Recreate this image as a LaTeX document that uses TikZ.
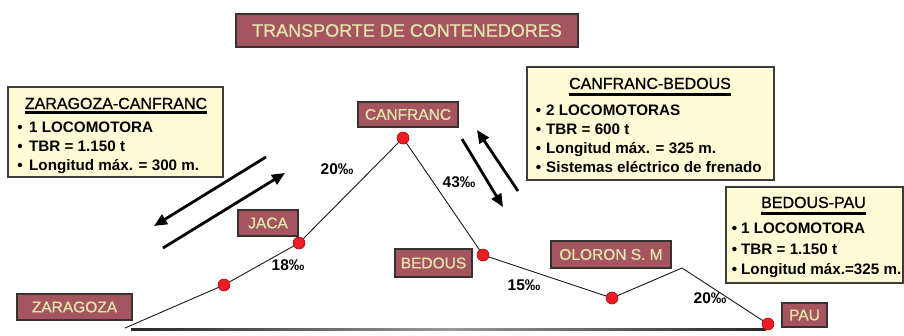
\documentclass[tikz,border=0pt]{standalone}
\usepackage{fontspec}
\setmainfont{Liberation Sans}
\newfontfamily\medfont[RawFeature={embolden=0.9}]{Liberation Sans}
\usetikzlibrary{arrows.meta}
\definecolor{lblfill}{RGB}{166,84,96}
\definecolor{lbltext}{RGB}{222,230,170}
\definecolor{lblborder}{RGB}{55,50,50}
\definecolor{boxfill}{RGB}{255,251,214}
\definecolor{boxborder}{RGB}{60,60,60}
\definecolor{dotred}{RGB}{237,28,36}
\definecolor{dotedge}{RGB}{150,20,20}
\begin{document}
\begin{tikzpicture}[x=1pt,y=-1pt,
  lbl/.style={draw=lblborder, line width=1.2pt, fill=lblfill, text=lbltext, inner sep=0pt, font=\medfont\fontsize{15.5}{17}\selectfont},
  infobox/.style={draw=boxborder, line width=1.2pt, fill=boxfill, inner sep=0pt},
  btitle/.style={inner sep=0pt, anchor=base, font=\medfont\fontsize{16}{18}\selectfont},
  bline/.style={inner sep=0pt, anchor=base west, font=\bfseries\fontsize{15.2}{17}\selectfont},
  bul/.style={inner sep=0pt, anchor=base, font=\bfseries\fontsize{15.2}{17}\selectfont},
  pct/.style={inner sep=0pt, font=\bfseries\fontsize{15.5}{17}\selectfont},
  dot/.style={circle, fill=dotred, draw=dotedge, line width=0.6pt, minimum size=12pt, inner sep=0pt},
  track/.style={line width=0.9pt, draw=black!90},
  bigarrow/.style={line width=2.8pt, -{Triangle[length=13pt,width=11pt]}},
  uline/.style={line width=3pt}
]
\useasboundingbox (0,0) rectangle (904,335);

% title
\node[lbl, minimum width=342pt, minimum height=33pt, font=\medfont\fontsize{18}{20}\selectfont] (title) at (407,30.5) {TRANSPORTE DE CONTENEDORES};

% info boxes
\node[infobox, minimum width=215pt, minimum height=90pt] (box1) at (115.5,132) {};
\node[btitle] (t1) at (116,109) {ZARAGOZA-CANFRANC};
\draw[uline] ([yshift=-3.5pt]t1.base west) -- ([yshift=-3.5pt]t1.base east);
\node[bul] (b11) at (20,132) {•};
\node[bline] (l11) at (29,132) {1 LOCOMOTORA};
\node[bul] (b12) at (20,151) {•};
\node[bline] (l12) at (29,151) {TBR = 1.150 t};
\node[bul] (b13) at (20,170) {•};
\node[bline] (l13) at (29,170) {Longitud máx. = 300 m.};

\node[infobox, minimum width=247pt, minimum height=113pt] (box2) at (650.5,123.5) {};
\node[btitle] (t2) at (650,89) {CANFRANC-BEDOUS};
\draw[uline] ([yshift=-5pt]t2.base west) -- ([yshift=-5pt]t2.base east);
\node[bul] (b21) at (538.5,115) {•};
\node[bline] (l21) at (546,115) {2 LOCOMOTORAS};
\node[bul] (b22) at (538.5,134) {•};
\node[bline] (l22) at (546,134) {TBR = 600 t};
\node[bul] (b23) at (538.5,153) {•};
\node[bline] (l23) at (546,153) {Longitud máx. = 325 m.};
\node[bul] (b24) at (538.5,172) {•};
\node[bline] (l24) at (546,172) {Sistemas eléctrico de frenado};

\node[infobox, minimum width=177pt, minimum height=96pt] (box3) at (814.5,235) {};
\node[btitle] (t3) at (813.5,208) {BEDOUS-PAU};
\draw[uline] ([yshift=-5pt]t3.base west) -- ([yshift=-5pt]t3.base east);
\node[bul] (b31) at (734.5,233) {•};
\node[bline] (l31) at (741,233) {1 LOCOMOTORA};
\node[bul] (b32) at (734.5,254) {•};
\node[bline] (l32) at (741,254) {TBR = 1.150 t};
\node[bul] (b33) at (734.5,274) {•};
\node[bline] (l33) at (741,274) {Longitud máx.=325 m.};

% station labels
\node[lbl, minimum width=100pt, minimum height=25pt] (canfranc) at (408,114.5) {CANFRANC};
\node[lbl, minimum width=60pt, minimum height=26pt] (jaca) at (268,223) {JACA};
\node[lbl, minimum width=115pt, minimum height=26pt] (zaragoza) at (74.5,307) {ZARAGOZA};
\node[lbl, minimum width=77pt, minimum height=28pt] (bedous) at (433.5,263) {BEDOUS};
\node[lbl, minimum width=120pt, minimum height=27pt] (oloron) at (611,254.5) {OLORON S. M};
\node[lbl, minimum width=45pt, minimum height=24pt] (pau) at (804.5,315) {PAU};

% baseline
\shade[left color=black!85, right color=black!85, middle color=black!40] (131,328.8) rectangle (766,330.8);

% track
\coordinate (cS) at (125,328);
\coordinate (cK) at (682,268);
\node[dot] (dA) at (224,285) {};
\node[dot] (dJ) at (299,243) {};
\node[dot] (dC) at (403,138) {};
\node[dot] (dB) at (483,255) {};
\node[dot] (dO) at (612,298) {};
\node[dot] (dP) at (768,324) {};
\draw[track] (cS) -- (dA) -- (dJ) -- (dC) -- (dB) -- (dO) -- (cK) -- (dP);

% gradients
\node[pct] (p1) at (337,169) {20‰};
\node[pct] (p2) at (288,265) {18‰};
\node[pct] (p3) at (459,182) {43‰};
\node[pct] (p4) at (524,285) {15‰};
\node[pct] (p5) at (710,298) {20‰};

% arrows
\coordinate (a1s) at (266,157);
\coordinate (a1e) at (154,226);
\coordinate (a2s) at (163,248);
\coordinate (a2e) at (285,173);
\coordinate (a3s) at (518,191);
\coordinate (a3e) at (477,130);
\coordinate (a4s) at (462,139);
\coordinate (a4e) at (503,207);
\draw[bigarrow] (a1s) -- (a1e);
\draw[bigarrow] (a2s) -- (a2e);
\draw[bigarrow] (a3s) -- (a3e);
\draw[bigarrow] (a4s) -- (a4e);
\end{tikzpicture}
\end{document}
